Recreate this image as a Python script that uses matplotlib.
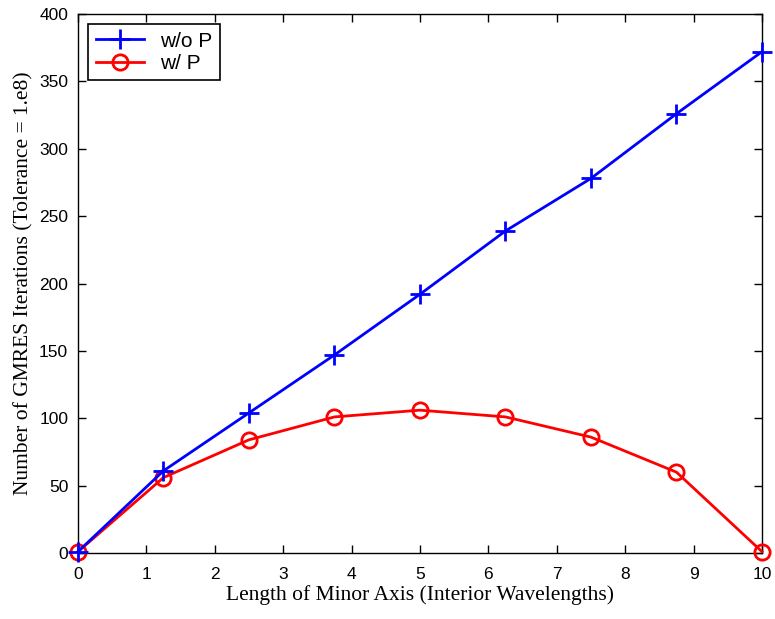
import numpy as np
import matplotlib
matplotlib.use('Agg')
from matplotlib import pyplot as plt

# Data
minor_axis = [0, 1.25, 2.5, 3.75, 5, 6.25, 7.5, 8.75, 10]
iters_no_prec = [1, 61, 104, 147, 192, 239, 278, 326, 372]
iters_prec = [1, 56, 84, 101, 106, 101, 86, 60, 1]

fig = plt.figure(figsize=(7.75, 6.19), dpi=100)
ax = fig.add_axes([0.1006, 0.1066, 0.8826, 0.8708])

ax.plot(minor_axis, iters_prec, 'r-o', linewidth=2, markersize=11,
        markerfacecolor='none', markeredgewidth=2, label='w/ P',
        zorder=3, clip_on=False)
ax.plot(minor_axis, iters_no_prec, 'b-+', linewidth=2, markersize=14,
        markeredgewidth=2, label='w/o P', zorder=4, clip_on=False)

ax.set_xlim(0, 10)
ax.set_ylim(0, 400)
ax.set_xticks(np.arange(0, 11, 1))
ax.set_yticks(np.arange(0, 401, 50))
ax.tick_params(direction='in', top=True, right=True, length=6, width=1,
               labelsize=12.5)
ax.tick_params(axis='x', pad=10)
ax.tick_params(axis='y', pad=7)
for lab in ax.get_xticklabels() + ax.get_yticklabels():
    lab.set_family('Liberation Sans')
for s in ax.spines.values():
    s.set_linewidth(1)

ax.set_xlabel('Length of Minor Axis (Interior Wavelengths)',
              family='Liberation Serif', fontsize=15.5, labelpad=2)
ax.set_ylabel('Number of GMRES Iterations (Tolerance = 1.e8)',
              family='Liberation Serif', fontsize=15.5, labelpad=4)

h, l = ax.get_legend_handles_labels()
leg = ax.legend(h[::-1], l[::-1], loc='upper left', fancybox=False,
                edgecolor='black', framealpha=1,
                prop={'family': 'Liberation Sans', 'size': 15},
                handlelength=2.3, borderaxespad=0.5, labelspacing=0.15,
                borderpad=0.35)
leg.get_frame().set_linewidth(1.2)

plt.savefig('out.png')
